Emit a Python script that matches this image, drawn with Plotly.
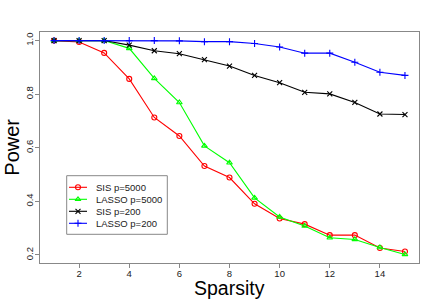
import plotly.graph_objects as go

sparsity = list(range(1, 16))
sis_5000 = [1.0, 0.995, 0.954, 0.857, 0.713, 0.644, 0.532, 0.489, 0.391, 0.336, 0.315, 0.274, 0.274, 0.226, 0.213]
lasso_5000 = [1.0, 1.0, 1.0, 0.971, 0.859, 0.769, 0.607, 0.544, 0.413, 0.342, 0.308, 0.264, 0.258, 0.228, 0.202]
sis_200 = [1.0, 1.0, 1.0, 0.983, 0.962, 0.951, 0.929, 0.905, 0.870, 0.843, 0.807, 0.801, 0.769, 0.726, 0.724]
lasso_200 = [1.0, 1.0, 1.0, 1.0, 1.0, 0.999, 0.996, 0.996, 0.989, 0.976, 0.953, 0.953, 0.919, 0.882, 0.870]

x_ticks = [2, 4, 6, 8, 10, 12, 14]
y_ticks = [0.2, 0.4, 0.6, 0.8, 1.0]

series = [
    ("SIS p=5000", sis_5000, "#ff0000", "circle-open"),
    ("LASSO p=5000", lasso_5000, "#00ff00", "triangle-up-open"),
    ("SIS p=200", sis_200, "#000000", "x-thin-open"),
    ("LASSO p=200", lasso_200, "#0000ff", "cross-thin-open"),
]

FONT = "Liberation Sans, Arial, Helvetica"

fig = go.Figure()
for name, vals, color, sym in series:
    fig.add_trace(go.Scatter(
        x=sparsity, y=vals, name=name, mode="lines+markers", showlegend=False,
        line=dict(color=color, width=1.1),
        marker=dict(symbol=sym, size=5, color=color, line=dict(color=color, width=1.1)),
    ))

# manual legend (pixel-like overlay axes covering the plot area)
L_X0, L_X1, L_Y0, L_Y1 = 66.7, 167.3, 175.7, 234.3
row_y = [187.3, 199.3, 211.3, 223.3]
for (name, vals, color, sym), yy in zip(series, row_y):
    fig.add_trace(go.Scatter(
        x=[69, 78, 87], y=[yy, yy, yy], xaxis="x2", yaxis="y2", mode="lines",
        line=dict(color=color, width=1.1), showlegend=False, hoverinfo="skip",
    ))
    fig.add_trace(go.Scatter(
        x=[78], y=[yy], xaxis="x2", yaxis="y2", mode="markers",
        marker=dict(symbol=sym, size=5, color=color, line=dict(color=color, width=1.1)),
        showlegend=False, hoverinfo="skip",
    ))

annotations = [
    dict(text=name, xref="x2", yref="y2", x=94, y=yy, xanchor="left", yanchor="middle",
         showarrow=False, font=dict(family=FONT, size=9.5, color="#222222"))
    for (name, _, _, _), yy in zip(series, row_y)
]
annotations += [
    dict(text="Sparsity", xref="paper", yref="paper", x=0.5, y=-0.107, xanchor="center",
         yanchor="middle", showarrow=False, font=dict(family=FONT, size=19.5, color="#000000")),
    dict(text="Power", xref="paper", yref="paper", x=-0.076, y=0.5, xanchor="center",
         yanchor="middle", showarrow=False, textangle=-90,
         font=dict(family=FONT, size=20, color="#000000")),
]

axis_common = dict(
    showgrid=False, zeroline=False, showline=True, mirror=True,
    linecolor="#888888", linewidth=1, ticks="outside", ticklen=4,
    tickcolor="#888888", tickfont=dict(family=FONT, size=9.5, color="#222222"),
    ticklabelstandoff=-2,
)

fig.update_layout(
    width=436, height=303,
    margin=dict(l=40, r=17, t=32, b=40),
    paper_bgcolor="white", plot_bgcolor="white",
    font=dict(family=FONT, color="#000000"),
    xaxis=dict(range=[0.44, 15.56], tickvals=x_ticks, **axis_common),
    yaxis=dict(range=[0.17, 1.032], tickvals=y_ticks, ticktext=[f"{v:.1f}" for v in y_ticks],
               tickangle=-90, **axis_common),
    xaxis2=dict(range=[40, 419], overlaying="x", visible=False, fixedrange=True),
    yaxis2=dict(range=[263, 32], overlaying="y", visible=False, fixedrange=True),
    shapes=[dict(type="rect", xref="x2", yref="y2", x0=L_X0, x1=L_X1, y0=L_Y0, y1=L_Y1,
                 line=dict(color="#888888", width=1), fillcolor="white", layer="below")],
    annotations=annotations,
    showlegend=False,
)

fig.write_html("out.html", config={"displayModeBar": False},
               post_script="document.body.style.margin='0';document.body.style.overflow='hidden';")
